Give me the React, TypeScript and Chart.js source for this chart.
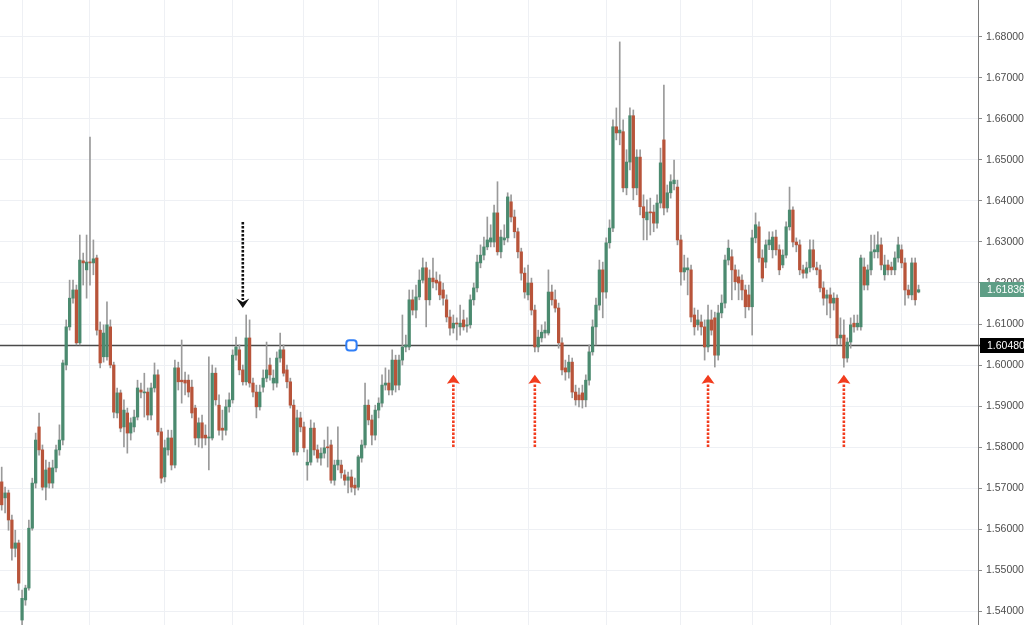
import React, { useEffect, useRef } from "react";
import { Chart, registerables } from "chart.js";

Chart.register(...registerables);

// ---- OHLC series (one candle per slot) ----
const opens = [
  1.5715, 1.5676, 1.5688, 1.5622, 1.5553, 1.5566, 1.5378, 1.5427, 1.5456, 1.5602,
  1.5712, 1.5849, 1.5793, 1.5702, 1.5749, 1.5712, 1.5749, 1.5793, 1.5817, 1.6000,
  1.6093, 1.6163, 1.6183, 1.6054, 1.6254, 1.6232, 1.6251, 1.6249, 1.6261, 1.6085,
  1.6020, 1.6020, 1.6093, 1.6000, 1.5883, 1.5932, 1.5849, 1.5883, 1.5834, 1.5849,
  1.5873, 1.5939, 1.5932, 1.5934, 1.5878, 1.5944, 1.5976, 1.5837, 1.5727, 1.5793,
  1.5822, 1.5756, 1.5993, 1.5963, 1.5963, 1.5963, 1.5946, 1.5895, 1.5822, 1.5859,
  1.5829, 1.5822, 1.5822, 1.5980, 1.5902, 1.5846, 1.5841, 1.5898, 1.5915, 1.6024,
  1.6037, 1.5988, 1.5959, 1.6066, 1.5956, 1.5934, 1.5898, 1.5946, 1.5968, 1.6000,
  1.5956, 1.5956, 1.6017, 1.6037, 1.5988, 1.5959, 1.5902, 1.5788, 1.5871, 1.5849,
  1.5756, 1.5763, 1.5846, 1.5793, 1.5773, 1.5785, 1.5800, 1.5805, 1.5719, 1.5756,
  1.5756, 1.5732, 1.5719, 1.5727, 1.5707, 1.5702, 1.5773, 1.5805, 1.5902, 1.5866,
  1.5829, 1.5890, 1.5907, 1.5951, 1.5956, 1.5939, 1.6012, 1.5951, 1.6012, 1.6044,
  1.6044, 1.6159, 1.6134, 1.6166, 1.6207, 1.6237, 1.6159, 1.6212, 1.6207, 1.6203,
  1.6183, 1.6159, 1.6117, 1.6090, 1.6102, 1.6093, 1.6110, 1.6095, 1.6098, 1.6159,
  1.6188, 1.6249, 1.6268, 1.6288, 1.6300, 1.6300, 1.6371, 1.6276, 1.6305, 1.6310,
  1.6398, 1.6361, 1.6325, 1.6276, 1.6224, 1.6171, 1.6200, 1.6134, 1.6044, 1.6066,
  1.6078, 1.6078, 1.6178, 1.6159, 1.6139, 1.6054, 1.5993, 1.5983, 1.6007, 1.5934,
  1.5927, 1.5932, 1.5915, 1.5963, 1.6032, 1.6093, 1.6146, 1.6232, 1.6178, 1.6298,
  1.6334, 1.6581, 1.6566, 1.6569, 1.6432, 1.6495, 1.6608, 1.6432, 1.6507, 1.6386,
  1.6354, 1.6373, 1.6373, 1.6346, 1.6395, 1.6549, 1.6383, 1.6420, 1.6442, 1.6434,
  1.6305, 1.6227, 1.6232, 1.6232, 1.6122, 1.6098, 1.6105, 1.6093, 1.6044, 1.6110,
  1.6115, 1.6024, 1.6127, 1.6151, 1.6256, 1.6264, 1.6232, 1.6215, 1.6207, 1.6183,
  1.6171, 1.6142, 1.6310, 1.6337, 1.6261, 1.6251, 1.6293, 1.6281, 1.6312, 1.6281,
  1.6244, 1.6268, 1.6337, 1.6378, 1.6300, 1.6293, 1.6232, 1.6224, 1.6237, 1.6281,
  1.6237, 1.6232, 1.6188, 1.6163, 1.6171, 1.6151, 1.6163, 1.6066, 1.6073, 1.6017,
  1.6056, 1.6102, 1.6093, 1.6093, 1.6239, 1.6195, 1.6232, 1.6276, 1.6276, 1.6293,
  1.6220, 1.6244, 1.6239, 1.6232, 1.6261, 1.6281, 1.6249, 1.6183, 1.6171, 1.6249,
  1.6178,
];

const highs = [
  1.5751, 1.5702, 1.5695, 1.5634, 1.5597, 1.5573, 1.5451, 1.5463, 1.5622, 1.5724,
  1.5834, 1.5883, 1.5805, 1.5768, 1.5763, 1.5768, 1.5805, 1.5854, 1.6012, 1.6110,
  1.6207, 1.6207, 1.6195, 1.6317, 1.6273, 1.6317, 1.6556, 1.6305, 1.6268, 1.6105,
  1.6098, 1.6154, 1.6110, 1.6007, 1.5944, 1.5939, 1.5915, 1.5895, 1.5871, 1.5890,
  1.5963, 1.5956, 1.5980, 1.5944, 1.5956, 1.6005, 1.5988, 1.5846, 1.5817, 1.5841,
  1.5841, 1.6012, 1.6007, 1.6061, 1.5983, 1.5976, 1.5963, 1.5902, 1.5871, 1.5878,
  1.5854, 1.6020, 1.6000, 1.5993, 1.5927, 1.5890, 1.5915, 1.5932, 1.6037, 1.6068,
  1.6049, 1.6000, 1.6122, 1.6110, 1.5968, 1.5951, 1.5951, 1.5988, 1.6056, 1.6017,
  1.5988, 1.6032, 1.6078, 1.6049, 1.6000, 1.5968, 1.5915, 1.5890, 1.5885, 1.5861,
  1.5793, 1.5866, 1.5859, 1.5805, 1.5798, 1.5817, 1.5849, 1.5817, 1.5768, 1.5849,
  1.5768, 1.5744, 1.5739, 1.5744, 1.5724, 1.5780, 1.5817, 1.5956, 1.5915, 1.5878,
  1.5902, 1.5920, 1.5976, 1.5993, 1.5988, 1.6037, 1.6024, 1.6024, 1.6122, 1.6073,
  1.6183, 1.6183, 1.6195, 1.6232, 1.6261, 1.6251, 1.6232, 1.6261, 1.6227, 1.6220,
  1.6200, 1.6171, 1.6134, 1.6122, 1.6115, 1.6146, 1.6134, 1.6115, 1.6171, 1.6200,
  1.6268, 1.6293, 1.6312, 1.6361, 1.6342, 1.6390, 1.6447, 1.6329, 1.6342, 1.6420,
  1.6415, 1.6378, 1.6334, 1.6285, 1.6237, 1.6244, 1.6212, 1.6146, 1.6085, 1.6098,
  1.6105, 1.6232, 1.6195, 1.6183, 1.6151, 1.6066, 1.6012, 1.6024, 1.6017, 1.5951,
  1.5944, 1.5951, 1.5976, 1.6049, 1.6110, 1.6163, 1.6256, 1.6251, 1.6310, 1.6354,
  1.6598, 1.6627, 1.6788, 1.6598, 1.6525, 1.6627, 1.6622, 1.6525, 1.6525, 1.6415,
  1.6403, 1.6407, 1.6390, 1.6415, 1.6529, 1.6683, 1.6439, 1.6464, 1.6500, 1.6451,
  1.6317, 1.6268, 1.6261, 1.6244, 1.6139, 1.6134, 1.6122, 1.6110, 1.6146, 1.6134,
  1.6129, 1.6146, 1.6171, 1.6268, 1.6305, 1.6281, 1.6244, 1.6232, 1.6220, 1.6195,
  1.6195, 1.6329, 1.6371, 1.6349, 1.6281, 1.6305, 1.6325, 1.6325, 1.6329, 1.6293,
  1.6281, 1.6349, 1.6434, 1.6386, 1.6310, 1.6305, 1.6244, 1.6251, 1.6305, 1.6305,
  1.6251, 1.6244, 1.6203, 1.6183, 1.6188, 1.6176, 1.6171, 1.6115, 1.6110, 1.6066,
  1.6115, 1.6122, 1.6122, 1.6268, 1.6261, 1.6244, 1.6317, 1.6317, 1.6325, 1.6310,
  1.6268, 1.6256, 1.6251, 1.6276, 1.6312, 1.6293, 1.6261, 1.6195, 1.6261, 1.6261,
  1.6195,
];

const lows = [
  1.5646, 1.5639, 1.5597, 1.5524, 1.5532, 1.5451, 1.5366, 1.5414, 1.5451, 1.5597,
  1.5700, 1.5780, 1.5695, 1.5671, 1.5700, 1.5700, 1.5739, 1.5780, 1.5805, 1.5988,
  1.6085, 1.6151, 1.6049, 1.6049, 1.6195, 1.6163, 1.6195, 1.6220, 1.6073, 1.5993,
  1.6007, 1.6012, 1.5993, 1.5871, 1.5871, 1.5837, 1.5800, 1.5785, 1.5817, 1.5837,
  1.5866, 1.5920, 1.5873, 1.5866, 1.5866, 1.5934, 1.5829, 1.5712, 1.5715, 1.5780,
  1.5744, 1.5749, 1.5939, 1.5907, 1.5927, 1.5922, 1.5871, 1.5805, 1.5800, 1.5798,
  1.5805, 1.5744, 1.5817, 1.5902, 1.5829, 1.5817, 1.5829, 1.5885, 1.5907, 1.6012,
  1.5976, 1.5951, 1.5951, 1.5946, 1.5922, 1.5871, 1.5890, 1.5934, 1.5959, 1.5963,
  1.5939, 1.5946, 1.6007, 1.5973, 1.5944, 1.5895, 1.5780, 1.5780, 1.5837, 1.5788,
  1.5719, 1.5756, 1.5780, 1.5763, 1.5756, 1.5773, 1.5751, 1.5712, 1.5707, 1.5744,
  1.5724, 1.5707, 1.5688, 1.5690, 1.5683, 1.5695, 1.5763, 1.5798, 1.5854, 1.5805,
  1.5817, 1.5871, 1.5898, 1.5939, 1.5927, 1.5927, 1.5934, 1.5939, 1.6000, 1.6032,
  1.6037, 1.6122, 1.6115, 1.6159, 1.6200, 1.6093, 1.6146, 1.6188, 1.6183, 1.6159,
  1.6146, 1.6105, 1.6073, 1.6078, 1.6061, 1.6073, 1.6085, 1.6080, 1.6090, 1.6146,
  1.6178, 1.6237, 1.6256, 1.6281, 1.6288, 1.6288, 1.6268, 1.6261, 1.6293, 1.6300,
  1.6349, 1.6310, 1.6261, 1.6207, 1.6163, 1.6159, 1.6122, 1.6032, 1.6032, 1.6056,
  1.6066, 1.6073, 1.6146, 1.6129, 1.6041, 1.5976, 1.5963, 1.5968, 1.5920, 1.5902,
  1.5898, 1.5895, 1.5898, 1.5951, 1.6024, 1.6049, 1.6134, 1.6115, 1.6163, 1.6285,
  1.6325, 1.6549, 1.6537, 1.6422, 1.6415, 1.6476, 1.6403, 1.6415, 1.6366, 1.6305,
  1.6305, 1.6317, 1.6325, 1.6334, 1.6383, 1.6366, 1.6373, 1.6407, 1.6427, 1.6293,
  1.6195, 1.6207, 1.6171, 1.6105, 1.6073, 1.6085, 1.6073, 1.6012, 1.6032, 1.6073,
  1.5995, 1.6012, 1.6115, 1.6139, 1.6244, 1.6159, 1.6183, 1.6159, 1.6159, 1.6115,
  1.6134, 1.6073, 1.6298, 1.6251, 1.6203, 1.6237, 1.6281, 1.6261, 1.6268, 1.6220,
  1.6237, 1.6261, 1.6329, 1.6288, 1.6276, 1.6220, 1.6212, 1.6212, 1.6227, 1.6232,
  1.6220, 1.6178, 1.6146, 1.6122, 1.6115, 1.6134, 1.6049, 1.6049, 1.5995, 1.6007,
  1.6041, 1.6080, 1.6085, 1.6085, 1.6183, 1.6183, 1.6220, 1.6261, 1.6261, 1.6232,
  1.6207, 1.6220, 1.6220, 1.6220, 1.6251, 1.6237, 1.6146, 1.6163, 1.6159, 1.6146,
  1.6176,
];

const closes = [
  1.5659, 1.5688, 1.5622, 1.5553, 1.5566, 1.5468, 1.5431, 1.5456, 1.5602, 1.5712,
  1.5817, 1.5793, 1.5702, 1.5744, 1.5712, 1.5749, 1.5793, 1.5817, 1.6005, 1.6093,
  1.6163, 1.6183, 1.6054, 1.6256, 1.6249, 1.6251, 1.6249, 1.6259, 1.6085, 1.6005,
  1.6078, 1.6098, 1.6000, 1.5885, 1.5932, 1.5846, 1.5890, 1.5834, 1.5859, 1.5873,
  1.5944, 1.5934, 1.5934, 1.5878, 1.5944, 1.5976, 1.5837, 1.5724, 1.5798, 1.5822,
  1.5756, 1.5993, 1.5959, 1.5959, 1.5956, 1.5934, 1.5883, 1.5822, 1.5859, 1.5822,
  1.5822, 1.5824, 1.5980, 1.5915, 1.5841, 1.5841, 1.5898, 1.5915, 1.6024, 1.6044,
  1.5988, 1.5959, 1.6066, 1.5956, 1.5934, 1.5898, 1.5934, 1.5968, 1.5988, 1.5976,
  1.5968, 1.6017, 1.6037, 1.5980, 1.5959, 1.5902, 1.5788, 1.5871, 1.5849, 1.5798,
  1.5763, 1.5846, 1.5793, 1.5773, 1.5785, 1.5798, 1.5798, 1.5719, 1.5756, 1.5768,
  1.5737, 1.5719, 1.5727, 1.5702, 1.5700, 1.5776, 1.5805, 1.5902, 1.5866, 1.5829,
  1.5890, 1.5907, 1.5951, 1.5956, 1.5939, 1.6012, 1.5951, 1.6012, 1.6044, 1.6049,
  1.6159, 1.6134, 1.6166, 1.6207, 1.6237, 1.6159, 1.6212, 1.6203, 1.6200, 1.6171,
  1.6163, 1.6117, 1.6090, 1.6102, 1.6100, 1.6102, 1.6093, 1.6098, 1.6159, 1.6188,
  1.6251, 1.6268, 1.6288, 1.6305, 1.6310, 1.6371, 1.6276, 1.6312, 1.6310, 1.6410,
  1.6361, 1.6325, 1.6276, 1.6224, 1.6178, 1.6200, 1.6134, 1.6044, 1.6068, 1.6080,
  1.6085, 1.6178, 1.6159, 1.6139, 1.6054, 1.5988, 1.5983, 1.6007, 1.5934, 1.5915,
  1.5915, 1.5915, 1.5963, 1.6032, 1.6093, 1.6146, 1.6232, 1.6178, 1.6298, 1.6334,
  1.6581, 1.6566, 1.6573, 1.6432, 1.6495, 1.6608, 1.6432, 1.6507, 1.6386, 1.6359,
  1.6373, 1.6371, 1.6346, 1.6395, 1.6493, 1.6383, 1.6420, 1.6447, 1.6451, 1.6305,
  1.6227, 1.6237, 1.6237, 1.6117, 1.6093, 1.6110, 1.6093, 1.6044, 1.6110, 1.6085,
  1.6024, 1.6127, 1.6151, 1.6256, 1.6285, 1.6232, 1.6203, 1.6200, 1.6183, 1.6142,
  1.6142, 1.6310, 1.6342, 1.6261, 1.6212, 1.6293, 1.6305, 1.6312, 1.6281, 1.6232,
  1.6268, 1.6337, 1.6378, 1.6300, 1.6293, 1.6232, 1.6224, 1.6237, 1.6281, 1.6239,
  1.6232, 1.6188, 1.6163, 1.6171, 1.6151, 1.6163, 1.6066, 1.6073, 1.6017, 1.6056,
  1.6098, 1.6093, 1.6102, 1.6261, 1.6195, 1.6232, 1.6276, 1.6281, 1.6293, 1.6244,
  1.6244, 1.6232, 1.6232, 1.6261, 1.6293, 1.6249, 1.6183, 1.6171, 1.6249, 1.6159,
  1.61836,
];

const emptySlotsRight = 17;
const yTickValues = [1.54, 1.55, 1.56, 1.57, 1.58, 1.59, 1.6, 1.61, 1.62, 1.63, 1.64, 1.65, 1.66, 1.67, 1.68];
const yMin = 1.53659;
const yMax = 1.68902;
const timeGridSlots = [6, 26, 48, 68, 89, 111, 134, 155, 178, 200, 221, 244, 265];
const horizontalLevel = 1.6048;
const lastPrice = 1.61836;
const markerSlot = 103;
const downArrows = [{ slot: 71, from: 1.6349, to: 1.6139 }];
const upArrows = [
  { slot: 133, from: 1.58, to: 1.5976 },
  { slot: 157, from: 1.58, to: 1.5976 },
  { slot: 208, from: 1.58, to: 1.5976 },
  { slot: 248, from: 1.58, to: 1.5976 },
];

const UP = "#4b8a6f";
const DOWN = "#b8543a";
const WICK = "#9a9a9a";
const GRID = "#eef0f4";
const AXIS_FONT = { family: "'Liberation Sans', Arial, sans-serif", size: 10.5 };

const fmt = (v: number) => v.toFixed(5);

const overlayPlugin = {
  id: "overlay",
  beforeDatasetsDraw(chart: any) {
    const { ctx, chartArea, scales } = chart;
    const y = Math.round(scales.y.getPixelForValue(horizontalLevel)) + 0.5;
    ctx.save();
    ctx.strokeStyle = "#4a4a4a";
    ctx.lineWidth = 1.3;
    ctx.beginPath();
    ctx.moveTo(chartArea.left, y);
    ctx.lineTo(chart.width, y);
    ctx.stroke();
    ctx.restore();
  },
  afterDatasetsDraw(chart: any) {
    const { ctx, scales } = chart;
    const drawDotted = (x: number, y1: number, y2: number, color: string) => {
      ctx.save();
      ctx.strokeStyle = color;
      ctx.lineWidth = 2.6;
      ctx.setLineDash([2.6, 1.4]);
      ctx.beginPath();
      ctx.moveTo(x, y1);
      ctx.lineTo(x, y2);
      ctx.stroke();
      ctx.restore();
    };
    downArrows.forEach((a) => {
      const x = scales.x.getPixelForValue(a.slot);
      const y1 = scales.y.getPixelForValue(a.from);
      const tip = scales.y.getPixelForValue(a.to);
      drawDotted(x, y1, tip - 8, "#111");
      ctx.save();
      ctx.fillStyle = "#111";
      ctx.beginPath();
      ctx.moveTo(x, tip);
      ctx.lineTo(x - 6.5, tip - 9.5);
      ctx.lineTo(x, tip - 6);
      ctx.lineTo(x + 6.5, tip - 9.5);
      ctx.closePath();
      ctx.fill();
      ctx.restore();
    });
    upArrows.forEach((a) => {
      const x = scales.x.getPixelForValue(a.slot);
      const y1 = scales.y.getPixelForValue(a.from);
      const tip = scales.y.getPixelForValue(a.to);
      drawDotted(x, y1, tip + 8, "#f23c1e");
      ctx.save();
      ctx.fillStyle = "#f23c1e";
      ctx.beginPath();
      ctx.moveTo(x, tip);
      ctx.lineTo(x + 6.5, tip + 9);
      ctx.lineTo(x, tip + 7.5);
      ctx.lineTo(x - 6.5, tip + 9);
      ctx.closePath();
      ctx.fill();
      ctx.restore();
    });
  },
  afterDraw(chart: any) {
    const { ctx, chartArea, scales } = chart;
    const box = (value: number, bg: string) => {
      const y = scales.y.getPixelForValue(value);
      ctx.save();
      ctx.fillStyle = bg;
      ctx.fillRect(chartArea.right + 2, Math.round(y - 7.5), chart.width - chartArea.right - 2, 15);
      ctx.fillStyle = "#ffffff";
      ctx.font = `10.5px ${AXIS_FONT.family}`;
      ctx.textBaseline = "middle";
      ctx.textAlign = "left";
      ctx.fillText(fmt(value), chartArea.right + 9, y + 0.5);
      ctx.restore();
    };
    box(lastPrice, "#5e9e86");
    box(horizontalLevel, "#000000");
  },
};

export default function App() {
  const canvasRef = useRef<HTMLCanvasElement | null>(null);

  useEffect(() => {
    if (!canvasRef.current) return;
    const total = opens.length + emptySlotsRight;
    const labels = Array.from({ length: total }, (_, i) => String(i));
    const wickData = labels.map((_, i) => (i < lows.length ? [lows[i], highs[i]] : null));
    const bodyData = labels.map((_, i) => (i < opens.length ? [opens[i], closes[i]] : null));
    const bodyColors = labels.map((_, i) =>
      i < opens.length ? (closes[i] >= opens[i] ? UP : DOWN) : UP
    );
    const markerData = labels.map((_, i) => (i === markerSlot ? horizontalLevel : null));

    const chart = new Chart(canvasRef.current, {
      type: "bar",
      data: {
        labels,
        datasets: [
          {
            type: "line",
            label: "marker",
            data: markerData as any,
            showLine: false,
            borderWidth: 0,
            pointStyle: "rectRounded",
            pointRadius: (c: any) => (c.dataIndex === markerSlot ? 6 : 0),
            pointHoverRadius: 0,
            pointHitRadius: 0,
            pointBorderWidth: (c: any) => (c.dataIndex === markerSlot ? 2 : 0),
            pointBorderColor: "#2f7ef7",
            pointBackgroundColor: "#ffffff",
            order: 0,
          } as any,
          {
            type: "bar",
            label: "body",
            data: bodyData as any,
            backgroundColor: bodyColors,
            barThickness: 2.6,
            grouped: false,
            minBarLength: 1,
            order: 1,
          } as any,
          {
            type: "bar",
            label: "wick",
            data: wickData as any,
            backgroundColor: WICK,
            barThickness: 1,
            grouped: false,
            order: 2,
          } as any,
        ],
      },
      options: {
        animation: false,
        responsive: false,
        devicePixelRatio: 1,
        layout: { padding: 0 },
        events: [],
        plugins: {
          legend: { display: false },
          tooltip: { enabled: false },
        },
        scales: {
          x: {
            type: "category",
            offset: true,
            ticks: { display: false, autoSkip: false },
            grid: {
              offset: false,
              drawTicks: false,
              color: (c: any) => (timeGridSlots.includes(c.index) ? GRID : "rgba(0,0,0,0)"),
            },
            border: { display: false },
            afterFit: (s: any) => {
              s.height = 0;
              s.paddingLeft = 0;
              s.paddingRight = 0;
            },
          },
          y: {
            position: "right",
            min: yMin,
            max: yMax,
            afterBuildTicks: (s: any) => {
              s.ticks = yTickValues.map((v) => ({ value: v }));
            },
            ticks: {
              color: "#4d4d4d",
              font: AXIS_FONT,
              padding: 4,
              callback: (v: any) => fmt(Number(v)),
            },
            grid: { color: GRID, tickColor: "#8a8a8a", tickLength: 4, drawTicks: true },
            border: { display: true, color: "#7a7a7a", width: 1 },
            afterFit: (s: any) => {
              s.width = 46;
              s.paddingTop = 0;
              s.paddingBottom = 0;
            },
          },
        },
      } as any,
      plugins: [overlayPlugin],
    });

    return () => chart.destroy();
  }, []);

  return (
    <div style={{ position: "absolute", left: 0, top: 0, width: 1024, height: 625, background: "#ffffff" }}>
      <canvas ref={canvasRef} width={1024} height={625} style={{ display: "block" }} />
    </div>
  );
}
